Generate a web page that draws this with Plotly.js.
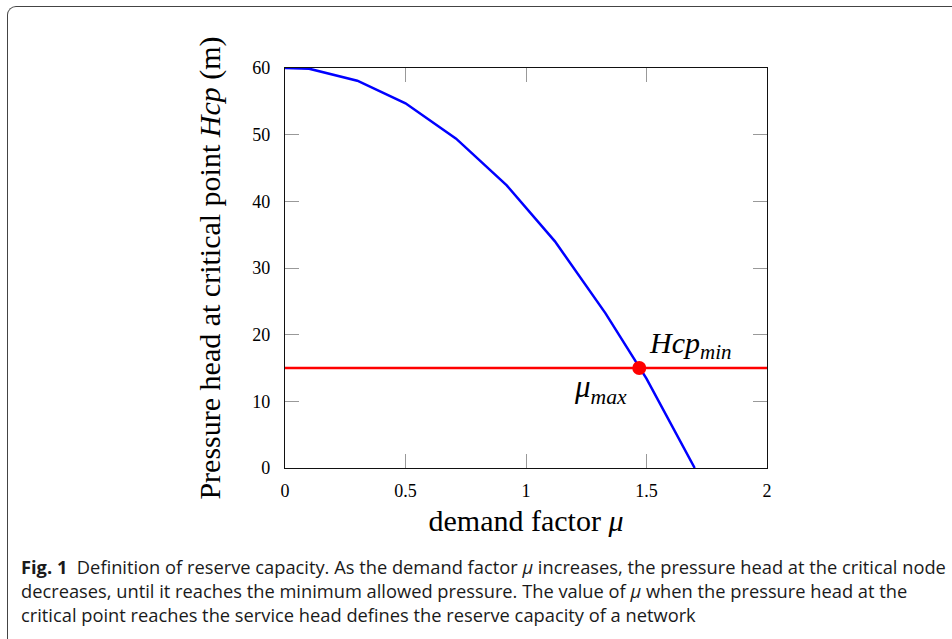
<!DOCTYPE html>
<html>
<head>
<meta charset="utf-8">
<script src="https://cdn.plot.ly/plotly-3.0.1.min.js"></script>
<style>
  html, body { margin: 0; padding: 0; background: #fff; }
  #wrap { position: relative; width: 952px; height: 639px; overflow: hidden; }
  #frame { position: absolute; left: 7px; top: 6px; width: 1100px; height: 800px;
           border-left: 1.5px solid #444; border-top: 1.5px solid #444; border-top-left-radius: 9px; }
  #chart { position: absolute; left: 0; top: 0; width: 952px; height: 639px; }
</style>
</head>
<body>
<div id="wrap"><div id="frame"></div><div id="chart"></div></div>
<script>
// Data
const demandFactor = [0, 0.1, 0.3, 0.5, 0.71, 0.92, 1.12, 1.33, 1.5, 1.7];
const pressureHead = [60, 59.9, 58.1, 54.7, 49.4, 42.4, 34.0, 23.2, 13.4, 0];
const serviceHeadX = [0, 2];
const serviceHeadY = [15, 15];
const muMax = [1.47];
const hcpMin = [15];
const xTickVals = [0, 0.5, 1, 1.5, 2];
const xTickText = ["0", "0.5", "1", "1.5", "2"];
const yTickVals = [0, 10, 20, 30, 40, 50, 60];
const captionLines = [
  "<b>Fig. 1</b>  Definition of reserve capacity. As the demand factor <i>μ</i> increases, the pressure head at the critical node",
  "decreases, until it reaches the minimum allowed pressure. The value of <i>μ</i> when the pressure head at the",
  "critical point reaches the service head defines the reserve capacity of a network"
];

const serif = "Liberation Serif, DejaVu Serif, serif";
const capFont = "Open Sans, sans-serif";

const traces = [
  { x: serviceHeadX, y: serviceHeadY, mode: "lines", line: { color: "#ff0000", width: 2.5 }, hoverinfo: "skip" },
  { x: demandFactor, y: pressureHead, mode: "lines", line: { color: "#0000ff", width: 2.5 }, hoverinfo: "skip" },
  { x: muMax, y: hcpMin, mode: "markers", marker: { color: "#ff0000", size: 14 }, hoverinfo: "skip" }
];

const W = 952, H = 639, ml = 285, mr = 185, mt = 68, mb = 171;
const pw = W - ml - mr, ph = H - mt - mb;
const px2paperX = p => (p - ml) / pw;
const px2paperY = p => (H - mb - p) / ph;

const annotations = [
  { x: 1.503, y: 18.4, xref: "x", yref: "y", xanchor: "left", yanchor: "middle", showarrow: false,
    text: "<i>Hcp</i><sub><i>min</i></sub>", font: { family: serif, size: 30, color: "#000" } },
  { x: 1.426, y: 11.8, xref: "x", yref: "y", xanchor: "right", yanchor: "middle", showarrow: false,
    text: "<i>μ</i><sub><i>max</i></sub>", font: { family: serif, size: 31, color: "#000" } }
];
const capY = [566, 590, 614];
captionLines.forEach((t, i) => {
  annotations.push({ x: px2paperX(19), y: px2paperY(capY[i]), xref: "paper", yref: "paper",
    xanchor: "left", yanchor: "middle", showarrow: false, align: "left",
    text: t, font: { family: capFont, size: 18.3, color: "#1a1a1a" } });
});

const layout = {
  width: W, height: H,
  margin: { l: ml, r: mr, t: mt, b: mb, pad: 0 },
  paper_bgcolor: "rgba(0,0,0,0)", plot_bgcolor: "rgba(0,0,0,0)",
  showlegend: false,
  xaxis: {
    range: [0, 2], tickvals: xTickVals, ticktext: xTickText,
    ticks: "inside", ticklen: 14, tickcolor: "#999", tickwidth: 1,
    showline: true, linecolor: "#111", linewidth: 1.2, mirror: "ticks",
    showgrid: false, zeroline: false, fixedrange: true,
    ticklabelstandoff: 6,
    tickfont: { family: serif, size: 18, color: "#000" },
    title: { text: "demand factor <i>μ</i>", font: { family: serif, size: 30, color: "#000" }, standoff: 10 },
    automargin: false
  },
  yaxis: {
    range: [0, 60], tickvals: yTickVals,
    ticks: "inside", ticklen: 14, tickcolor: "#999", tickwidth: 1,
    showline: true, linecolor: "#111", linewidth: 1.2, mirror: "ticks",
    showgrid: false, zeroline: false, fixedrange: true,
    ticklabelstandoff: 10,
    tickfont: { family: serif, size: 18, color: "#000" },
    title: { text: "Pressure head at critical point <i>Hcp</i> (m)", font: { family: serif, size: 30, color: "#000" }, standoff: 22 },
    automargin: false
  },
  annotations: annotations
};

Plotly.newPlot("chart", traces, layout, { staticPlot: true, displayModeBar: false });
</script>
</body>
</html>
